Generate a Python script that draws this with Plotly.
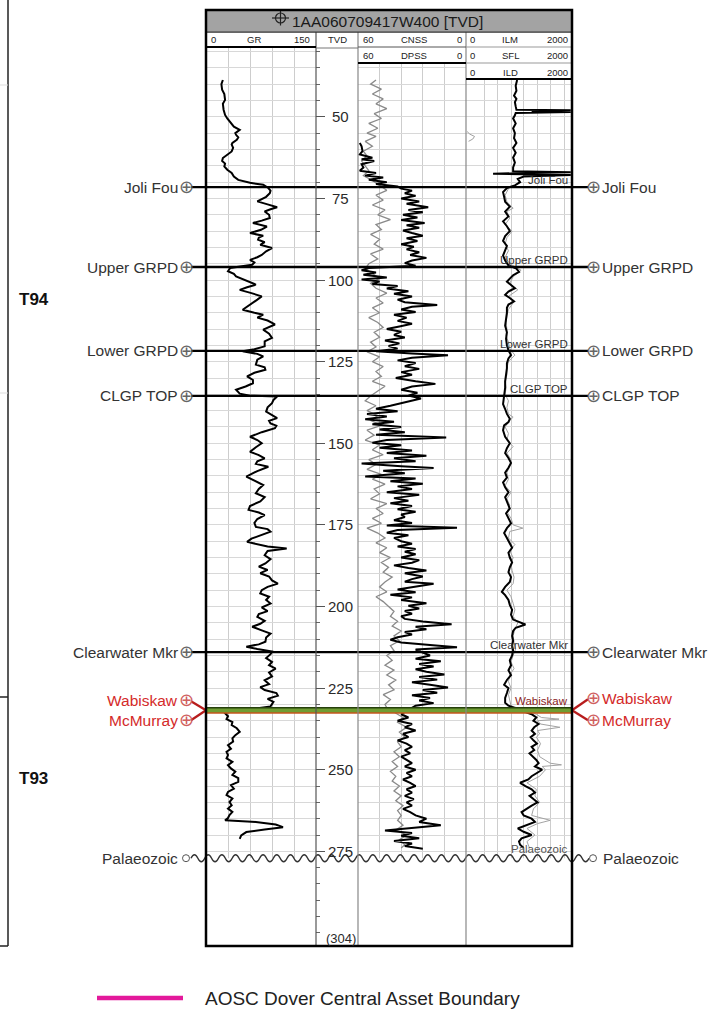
import math
import plotly.graph_objects as go

W, H = 708, 1014
FONT = "Liberation Sans, Arial, Helvetica, sans-serif"


def px(x):
    return x / W


def py(y):
    return 1 - y / H


# ---------------- data ----------------
DEPTH_TOP, DEPTH_BOTTOM = 28.6, 304.0
TVD_MAJOR = [50, 75, 100, 125, 150, 175, 200, 225, 250, 275]
TVD_END = 304

TOP_NAMES = ["Joli Fou", "Upper GRPD", "Lower GRPD", "CLGP TOP", "Clearwater Mkr"]
TOP_DEPTHS = [71.5, 96.0, 121.7, 135.5, 214.0]
WABISKAW, MCMURRAY, PALAEOZOIC = 231.0, 232.6, 277.1
ZONE_NAMES = ["T94", "T93"]

GR_LOG = [
    (38.7, 23), (40, 21), (41.7, 22), (43, 25), (44.8, 26), (46, 23), (47.8, 24), (49.4, 26),
    (50.5, 29), (52, 34), (53, 38), (54, 46), (55, 40), (55.5, 41), (56.3, 44), (57, 42),
    (58, 36), (58.5, 35), (59.5, 37), (60.6, 35), (61.5, 30), (62.6, 23), (63.5, 22), (64.3, 26),
    (65.2, 25), (66.2, 29), (67.2, 35), (68.3, 38), (69.3, 44), (70.2, 60), (70.8, 78), (71.8, 85),
    (72.6, 88), (73.4, 87), (74.5, 82), (75.9, 70), (76.8, 84), (77.7, 97), (78.3, 88), (79, 80),
    (80, 86), (81, 87), (81.8, 76), (82.5, 64), (83.6, 83), (84.6, 75), (85.6, 60), (86.4, 78),
    (87, 72), (87.6, 71), (88.4, 80), (89.2, 74), (90.2, 90), (91.2, 82), (92.3, 76), (93, 70),
    (93.8, 60), (94.6, 66), (95.3, 63), (96.3, 33), (97.3, 30), (98.1, 38), (98.9, 41), (100, 52),
    (101.4, 68), (102.2, 56), (103, 46), (104, 62), (105, 76), (106, 70), (107, 64), (108, 58),
    (109.1, 50), (110, 66), (110.6, 78), (111.5, 70), (112.4, 84), (113.6, 94), (114.5, 84),
    (115.2, 78), (116.4, 86), (117.7, 90), (118.8, 80), (120.3, 80), (121.2, 66), (121.8, 50),
    (122.6, 70), (123.4, 78), (124.4, 70), (125.9, 68), (126.7, 80), (127.5, 81), (128.4, 66),
    (129.5, 56), (130.6, 64), (131.6, 64), (132.6, 54), (133.6, 41), (134.8, 46), (135.4, 60),
    (135.7, 97), (136.7, 92), (137.7, 90), (139, 84), (140.3, 82), (141.3, 90), (142.3, 97),
    (143.1, 86), (143.9, 88), (144.6, 96), (145.4, 94), (146.6, 76), (148, 60), (149, 70),
    (150, 76), (151.2, 68), (152.6, 60), (153.6, 72), (154.6, 80), (155.5, 70), (156.3, 68),
    (157.2, 85), (158.5, 70), (160.2, 55), (161.4, 66), (162.8, 78), (164, 72), (165.3, 68),
    (166.5, 80), (167.8, 74), (169.2, 60), (170.4, 58), (171.2, 72), (172, 80), (173.2, 70),
    (174.4, 66), (175.6, 68), (176.3, 84), (177.1, 88), (178.2, 74), (179.2, 62), (180.2, 56),
    (181, 70), (181.6, 84), (182.2, 110), (183, 84), (184.3, 80), (185.5, 88), (186.8, 81),
    (187.8, 72), (188.8, 84), (189.8, 74), (190.8, 86), (192, 90), (193, 98), (194, 84),
    (195, 76), (196, 74), (197, 86), (198, 82), (199.1, 88), (200.3, 76), (201.4, 84),
    (202.3, 72), (203.2, 70), (204.4, 80), (205.3, 74), (206.2, 63), (207.3, 76), (208.3, 88),
    (209.5, 82), (210.8, 81), (211.6, 72), (212.3, 55), (213, 70), (213.8, 90), (214.6, 88),
    (215.8, 82), (217, 90), (218, 86), (219, 95), (220.2, 86), (221.4, 90), (222.6, 80),
    (223.8, 86), (224.7, 74), (225.6, 80), (226.5, 96), (227.3, 98), (228.3, 84), (229.2, 92),
    (229.8, 90), (230.6, 88), (232.4, 30), (232.7, 26), (233.6, 30), (234.5, 28), (235.4, 36),
    (236.3, 35), (237.3, 42), (238.4, 46), (239.4, 40), (240.4, 36), (241.4, 37), (242.5, 30),
    (243.6, 34), (244.5, 28), (245.5, 30), (246.5, 28), (247.6, 36), (248.6, 30), (249.6, 34),
    (250.6, 40), (251.6, 36), (252.6, 44), (253.7, 44), (254.7, 34), (255.8, 38), (256.8, 30),
    (257.8, 28), (258.8, 36), (259.9, 32), (260.9, 35), (261.9, 30), (262.9, 36), (263.9, 32),
    (264.8, 30), (265.5, 26), (266, 68), (266.8, 95), (267.6, 105), (268.3, 80), (269.1, 55),
    (270.1, 48), (271.2, 46),
]

CNSS_LOG = [
    (38.7, 50), (40, 53), (41.5, 47), (43, 52), (44.5, 46), (46, 50), (47.5, 44), (49, 51),
    (50.5, 47), (52, 54), (53.5, 49), (55, 55), (56, 50), (57.5, 56), (59, 52), (60.5, 57),
    (62, 55), (63.5, 58), (65, 56), (66.5, 54), (68, 57), (69.5, 52), (71, 48), (72.5, 44),
    (74, 50), (75.5, 46), (77, 52), (78.5, 45), (80, 49), (81.5, 42), (83, 50), (84.5, 47),
    (86, 53), (87.5, 48), (89, 51), (90.5, 46), (92, 53), (93.5, 49), (95, 54), (96.5, 56),
    (98, 52), (99.5, 48), (101, 53), (102.5, 50), (104, 44), (105.5, 50), (107, 46), (108.5, 52),
    (110, 48), (111.5, 54), (113, 49), (114.5, 46), (116, 51), (117.5, 48), (119, 53), (120.5, 50),
    (122, 55), (123.5, 48), (125, 52), (126.5, 46), (128, 50), (129.5, 47), (131, 52), (132.5, 45),
    (134, 49), (135.5, 53), (137, 56), (138.5, 50), (140, 55), (141.5, 49), (143, 53), (144.5, 47),
    (146, 55), (147.5, 51), (149, 56), (150.5, 48), (152, 52), (153.5, 46), (155, 54), (156.5, 50),
    (158, 55), (159.5, 47), (161, 52), (162.5, 45), (164, 51), (165.5, 48), (167, 53), (168.5, 44),
    (170, 50), (171.5, 46), (173, 52), (174.5, 47), (176, 55), (177.5, 49), (179, 45), (180.5, 50),
    (182, 44), (183.5, 48), (185, 42), (186.5, 47), (188, 43), (189.5, 46), (191, 41), (192.5, 45),
    (194, 48), (195.5, 44), (197, 50), (198.5, 46), (200, 43), (201.5, 40), (203, 42), (204.5, 38),
    (206, 41), (207.5, 36), (209, 40), (210.5, 37), (212, 42), (213.5, 40), (215, 44), (216.5, 41),
    (218, 45), (219.5, 40), (221, 44), (222.5, 39), (224, 43), (225.5, 40), (227, 46), (228.5, 42),
    (230, 45), (231, 44), (233, 38), (234, 35), (235.5, 38), (237, 33), (238.5, 37), (240, 34),
    (241.5, 38), (243, 36), (244.5, 40), (246, 37), (247.5, 41), (249, 38), (250.5, 42), (252, 39),
    (253.5, 41), (255, 37), (256.5, 40), (258, 36), (259.5, 39), (261, 35), (262.5, 38), (264, 36),
    (265.5, 38), (267, 35), (268.5, 39), (270, 33), (271.5, 37), (273, 34), (274, 36),
]

DPSS_LOG = [
    (58, 59), (59, 58), (60.5, 57.5), (61.5, 59), (62.5, 52), (63, 58), (63.5, 51), (64.5, 58),
    (65.5, 57), (66.5, 59), (67.2, 50), (68, 56), (68.6, 46), (69.3, 54), (70, 44), (70.6, 50),
    (71.3, 38), (72, 36), (72.6, 30), (73.4, 34), (74.2, 28), (75, 36), (75.9, 26), (76.6, 33),
    (77.7, 21), (78.5, 32), (79.2, 24), (80, 35), (80.8, 27), (81.6, 36), (82.5, 23), (83.2, 33),
    (84, 26), (84.8, 35), (85.6, 30), (86.4, 24), (87.2, 33), (88, 27), (89, 36), (89.8, 29),
    (90.6, 33), (91.5, 26), (92.3, 31), (93.2, 22), (94, 30), (94.8, 34), (95.6, 28), (96.3, 54),
    (97, 58), (97.7, 50), (98.4, 57), (99.2, 44), (99.8, 58), (100.4, 48), (101.2, 52), (101.8, 38),
    (102.6, 44), (103.4, 32), (104.2, 40), (105, 30), (106, 38), (106.8, 34), (107.6, 16), (108.2, 30),
    (109, 36), (109.8, 28), (110.6, 40), (111.5, 33), (112.5, 38), (113.4, 30), (114.2, 37), (115, 44),
    (115.8, 36), (116.8, 40), (117.6, 34), (118.5, 45), (119.4, 37), (120.2, 43), (121, 38), (121.8, 50),
    (122.5, 30), (123, 10), (123.8, 30), (124.6, 38), (125.4, 28), (126.4, 34), (127.2, 26), (128.2, 36),
    (129, 30), (130, 39), (131, 28), (131.8, 17), (132.6, 30), (133.6, 36), (134.5, 27), (135.4, 32),
    (136.3, 25), (137.4, 33), (138.5, 42), (139.4, 50), (140.2, 38), (141, 55), (141.8, 44), (142.6, 56),
    (143.4, 40), (144.2, 52), (145, 36), (145.8, 48), (146.6, 34), (147.4, 50), (148.2, 11), (149, 44),
    (149.8, 52), (150.6, 36), (151.4, 48), (152.2, 30), (153, 44), (153.8, 22), (154.6, 40), (155.5, 28),
    (156.2, 58), (157, 36), (157.6, 18), (158.4, 46), (159.2, 34), (160.2, 56), (160.8, 28), (161.6, 42),
    (162.4, 24), (163.2, 38), (164, 30), (165, 44), (165.8, 26), (166.8, 40), (167.6, 32), (168.4, 42),
    (169.2, 30), (170.2, 38), (171, 28), (171.8, 36), (172.6, 34), (173.6, 40), (174.4, 30), (175.2, 44),
    (175.9, 5), (176.6, 38), (177.4, 44), (178.2, 32), (179, 40), (180, 36), (180.8, 30), (181.6, 38),
    (182.4, 28), (183.2, 34), (184, 28), (185, 36), (185.8, 26), (186.6, 30), (187.4, 40), (188.2, 32),
    (189, 22), (189.8, 34), (190.8, 24), (191.6, 30), (192.4, 34), (193, 18), (194, 30), (194.8, 38),
    (195.6, 28), (196.4, 42), (197.2, 30), (198, 36), (199, 22), (199.8, 32), (200.6, 26), (201.4, 34),
    (202.2, 30), (203, 36), (203.8, 34), (204.6, 24), (205.4, 8), (206.2, 28), (207, 22), (207.8, 34),
    (208.6, 30), (209.4, 38), (210.2, 42), (211, 36), (211.8, 20), (212.5, 5), (213.2, 28), (214, 24),
    (215, 20), (216, 28), (216.8, 14), (217.6, 26), (218.4, 18), (219.2, 28), (220, 22), (220.8, 12),
    (221.6, 26), (222.4, 16), (223.2, 30), (224, 20), (224.8, 10), (225.6, 24), (226.4, 16), (227.2, 30),
    (228, 20), (228.8, 26), (229.6, 18), (230.4, 28), (233, 36), (234, 32), (235, 38), (236, 30),
    (237, 34), (238, 28), (239, 35), (240, 32), (241, 38), (242, 33), (243, 30), (244, 34),
    (245, 31), (246, 36), (247, 33), (248, 30), (249, 34), (250, 28), (251, 33), (252, 30),
    (253, 35), (254, 31), (255, 28), (256, 33), (257, 30), (258, 34), (259, 29), (260, 33),
    (261, 30), (262, 35), (263, 31), (264, 28), (265, 22), (266, 26), (267, 14), (267.8, 28),
    (268.6, 45), (269.4, 30), (270.2, 36), (271, 26), (271.8, 40), (272.6, 30), (273.4, 34), (274.2, 24),
]

ILD_LOG = [
    (38.7, 17), (40.5, 15), (42, 16), (43.5, 13), (44.5, 16), (45.5, 14), (46.8, 15), (47.8, 16),
    (48.0, 1800), (48.3, 60), (48.5, 1800), (48.8, 15), (49.5, 14), (50.5, 12), (52, 15), (53.5, 12),
    (55, 14), (56.5, 13), (58, 16), (59.5, 12), (61, 15), (62.5, 12), (64, 14), (65.5, 12),
    (66.7, 12), (67, 1800), (67.4, 2.1), (67.8, 1800), (68.3, 30), (69, 18), (70, 22), (71, 14),
    (71.8, 7), (73, 5), (74.5, 5.5), (76, 6), (77.5, 9), (79, 6), (80.5, 8), (82, 5),
    (83.5, 7), (85, 9), (86.5, 6), (88, 5), (89.5, 7), (91, 6), (92.5, 5), (94, 6),
    (95.5, 8), (96.5, 16), (97.5, 20), (98.5, 12), (99.5, 9), (100.5, 7), (101.5, 10), (102.5, 14),
    (103.5, 8), (104.5, 6), (105.5, 9), (106.5, 13), (107.5, 8), (108.5, 7), (110, 7), (112, 6.5),
    (114, 6), (116, 7), (118, 6.5), (120, 7), (121.5, 8), (123, 10), (124, 8), (125.5, 7),
    (127, 7), (129, 6.5), (131, 6), (133, 6), (135, 5.5), (136.5, 5), (138, 5), (139.5, 6),
    (141, 7), (142.5, 9), (143.5, 8), (144.5, 5.5), (146, 5), (148, 6), (150, 9), (151.5, 7),
    (153, 6), (154.5, 8), (156, 10), (157.5, 8), (159, 6), (160.5, 7), (162, 5), (163.5, 6),
    (165, 8), (166.5, 6), (168, 7), (170, 9), (171.5, 6.5), (173, 8), (174.5, 10), (176, 7),
    (177.5, 5.5), (179, 7), (180.5, 9), (182, 11), (183.5, 8), (185, 9), (186.5, 11), (188, 9),
    (189.5, 8), (191, 10), (192.5, 9), (194, 6), (195.5, 4.5), (196.5, 6), (198, 8), (199.5, 9),
    (201, 11), (202.5, 10), (204, 12), (205.5, 35), (206.5, 15), (207.5, 12), (209, 11), (210.5, 12),
    (212, 11), (213.5, 12), (215, 11), (216.5, 9), (218, 10), (219.5, 8), (221, 10), (222.5, 7),
    (224, 5.5), (225, 8), (226.5, 7), (228, 6), (229.5, 6), (230.4, 8), (233, 60), (234, 90),
    (235, 70), (236, 110), (237, 75), (238, 60), (239, 80), (240, 55), (241, 70), (242, 95),
    (243, 60), (244, 75), (245, 50), (246, 70), (247, 90), (248, 110), (249, 80), (250, 150),
    (251, 90), (252, 60), (253, 45), (254, 22), (255, 35), (256, 60), (257, 80), (258, 50),
    (259, 70), (260, 100), (261, 60), (262, 40), (263, 25), (264, 30), (265, 60), (266, 80),
    (267, 40), (268, 18), (269, 30), (270, 60), (271, 25), (272, 20), (273, 22), (274, 30),
]

SFL_LOG = [
    (72, 8), (74, 6), (76, 7), (78, 12), (79, 7), (81, 9), (83, 6), (85, 11), (87, 7), (89, 6),
    (91, 8), (93, 6), (95, 9), (97, 24), (99, 12), (101, 9), (103, 18), (105, 8), (107, 12),
    (109, 8), (111, 7), (113, 6.5), (115, 7), (117, 6.5), (119, 8), (121, 9), (123, 14), (125, 8),
    (127, 7), (129, 7), (131, 6), (133, 6.5), (135, 6), (137, 8), (139, 7), (141, 8), (142, 12),
    (143, 9), (145, 6), (147, 8), (149, 7), (151, 12), (153, 7), (155, 10), (157, 9), (159, 7),
    (161, 8), (163, 6), (165, 10), (167, 7), (169, 9), (171, 7), (173, 10), (175, 12), (176, 28),
    (177, 9), (179, 8), (181, 14), (183, 9), (185, 12), (187, 10), (189, 11), (191, 13), (193, 12),
    (195, 7), (197, 10), (199, 12), (201, 14), (203, 12), (205, 18), (207, 14), (209, 12), (211, 13),
    (213, 15), (215, 12), (217, 10), (219, 13), (221, 9), (223, 8), (225, 10), (227, 8), (229, 9),
    (230.4, 10), (233, 90), (234, 140), (234.5, 650), (235, 100), (236, 130), (237, 700), (238, 100),
    (239, 120), (240, 90), (242, 130), (244, 100), (246, 120), (248, 300), (248.5, 800), (249, 150),
    (250, 200), (252, 120), (254, 40), (256, 90), (258, 80), (260, 120), (262, 70), (264, 60),
    (265.5, 300), (266.5, 100), (268, 40), (270, 80), (272, 40), (274, 50),
]

ILM_LOG = [(54.5, 0.22), (55.3, 0.28), (56.0, 0.42), (56.8, 0.36), (57.5, 0.25)]


def split(pairs):
    return [p[0] for p in pairs], [p[1] for p in pairs]


gr_d, gr = split(GR_LOG)
cnss_d, cnss = split(CNSS_LOG)
dpss_d, dpss = split(DPSS_LOG)
ild_d, ild = split(ILD_LOG)
sfl_d, sfl = split(SFL_LOG)
ilm_d, ilm = split(ILM_LOG)

# ---------------- figure ----------------
fig = go.Figure()


def curve(x, y, xa, color, width):
    fig.add_trace(go.Scatter(x=x, y=y, xaxis=xa, yaxis="y", mode="lines",
                             line=dict(color=color, width=width), hoverinfo="skip"))


curve(gr, gr_d, "x", "black", 2)
curve(cnss, cnss_d, "x2", "#8a8a8a", 1.3)
curve(dpss, dpss_d, "x2", "black", 2)
curve(ilm, ilm_d, "x3", "#a0a0a0", 1)
curve(sfl, sfl_d, "x3", "#a3a3a3", 1)
curve(ild, ild_d, "x3", "black", 2)
# TVD track carrier (invisible)
fig.add_trace(go.Scatter(x=[0.5, 0.5], y=[DEPTH_TOP, DEPTH_BOTTOM], xaxis="x4", yaxis="y2",
                         mode="lines", line=dict(width=0, color="rgba(0,0,0,0)"), hoverinfo="skip"))

YDOM = [py(946), py(47)]
common = dict(showticklabels=False, zeroline=False, showline=False, ticks="", fixedrange=True)
GRID = "#cdcdcd"

layout = dict(
    width=W, height=H, margin=dict(l=0, r=0, t=0, b=0),
    paper_bgcolor="white", plot_bgcolor="rgba(0,0,0,0)", showlegend=False,
    xaxis=dict(domain=[px(206), px(316)], range=[0, 150], anchor="y", showgrid=True,
               tickvals=[30, 60, 90, 120], gridcolor=GRID, gridwidth=1, **common),
    xaxis2=dict(domain=[px(358), px(466)], range=[60, 0], anchor="y", showgrid=True,
                tickvals=[12, 24, 36, 48], gridcolor=GRID, gridwidth=1, **common),
    xaxis3=dict(domain=[px(466), px(572)], type="log", range=[math.log10(0.2), math.log10(2000)],
                anchor="y", showgrid=True, tickvals=[1, 3, 10, 30, 100, 300, 1000],
                gridcolor=GRID, gridwidth=1, **common),
    xaxis4=dict(domain=[px(316), px(358)], range=[0, 1], anchor="y2", visible=False, fixedrange=True),
    yaxis=dict(domain=YDOM, range=[DEPTH_BOTTOM, DEPTH_TOP], anchor="x", showgrid=True,
               tick0=0, dtick=5, gridcolor="#d8d8d8", gridwidth=1, **common),
    yaxis2=dict(domain=YDOM, range=[DEPTH_BOTTOM, DEPTH_TOP], anchor="x4", side="left",
                showgrid=False, zeroline=False, showline=False, showticklabels=False,
                ticks="inside", tickvals=TVD_MAJOR + [TVD_END], ticklen=9, tickwidth=1,
                tickcolor="#555", fixedrange=True,
                minor=dict(ticks="inside", tick0=0, dtick=5, ticklen=4, tickwidth=1,
                           tickcolor="#666", showgrid=False)),
)
fig.update_layout(**layout)

shapes = []


def pline(x0, y0, x1, y1, color="black", width=1, dash=None):
    ln = dict(color=color, width=width)
    if dash:
        ln["dash"] = dash
    shapes.append(dict(type="line", xref="paper", yref="paper", x0=px(x0), y0=py(y0),
                       x1=px(x1), y1=py(y1), line=ln, layer="above"))


def prect(x0, y0, x1, y1, fill, lcolor=None, lwidth=0):
    shapes.append(dict(type="rect", xref="paper", yref="paper", x0=px(x0), y0=py(y1),
                       x1=px(x1), y1=py(y0), fillcolor=fill,
                       line=dict(color=lcolor or fill, width=lwidth), layer="above"))


# white covers: header parts of tracks and the zone below the unconformity
prect(358, 47, 466, 63, "white")
prect(466, 47, 572, 80, "white")
for a, b in [(206, 316), (358, 466), (466, 572)]:
    shapes.append(dict(type="rect", xref="paper", yref="y", x0=px(a), x1=px(b),
                       y0=PALAEOZOIC, y1=DEPTH_BOTTOM, fillcolor="white",
                       line=dict(width=0), layer="above"))

# Wabiskaw / McMurray band
shapes.append(dict(type="rect", xref="paper", yref="y", x0=px(206), x1=px(572),
                   y0=WABISKAW, y1=MCMURRAY, fillcolor="#6f9d33", line=dict(width=0), layer="above"))
shapes.append(dict(type="line", xref="paper", yref="y", x0=px(206), x1=px(572),
                   y0=WABISKAW, y1=WABISKAW, line=dict(color="#26400c", width=1.5), layer="above"))
shapes.append(dict(type="line", xref="paper", yref="y", x0=px(206), x1=px(572),
                   y0=MCMURRAY, y1=MCMURRAY, line=dict(color="#c4561d", width=1.5), layer="above"))

# formation top lines
for d in TOP_DEPTHS:
    shapes.append(dict(type="line", xref="paper", yref="y", x0=px(191), x1=px(588),
                       y0=d, y1=d, line=dict(color="black", width=2.3), layer="above"))

# red connector lines for Wabiskaw / McMurray
band_mid = (WABISKAW + MCMURRAY) / 2
for (xa, ya), (xb, yb) in [((191, 9), (206, 0)), ((191, -10), (206, 0)),
                           ((572, 0), (588, 11)), ((572, 0), (588, -10))]:
    shapes.append(dict(type="line", xref="paper", yref="y", ysizemode="pixel", yanchor=band_mid,
                       x0=px(xa), y0=ya, x1=px(xb), y1=yb,
                       line=dict(color="#b71c1c", width=2.3), layer="above"))

# unconformity wave (Palaeozoic)
x_start, x_end, n_half, amp = 191.0, 589.0, 58, 3.5
h = (x_end - x_start) / n_half
path = f"M {px(x_start):.5f},0"
for i in range(n_half):
    xs = x_start + i * h
    sgn = 1 if i % 2 == 0 else -1
    path += f" Q {px(xs + h / 2):.5f},{sgn * 2 * amp:.2f} {px(xs + h):.5f},0"
shapes.append(dict(type="path", xref="paper", yref="y", ysizemode="pixel", yanchor=PALAEOZOIC,
                   path=path, line=dict(color="#333333", width=1.4), layer="above"))
# small open circles at the ends of the unconformity
for cx in (186, 593):
    shapes.append(dict(type="circle", xref="paper", yref="y", ysizemode="pixel",
                       yanchor=PALAEOZOIC, x0=px(cx - 3.5), x1=px(cx + 3.5), y0=-3.5, y1=3.5,
                       fillcolor="white", line=dict(color="#555", width=1), layer="above"))

# track dividers
pline(316, 32, 316, 946, "#555", 1.2)
pline(358, 32, 358, 946, "#888", 1.2)
pline(466, 32, 466, 946, "#888", 1.2)

# header lines
pline(206, 32, 572, 32, "#333", 1)
pline(206, 47, 316, 47, "black", 2.2)
pline(316, 48, 358, 48, "#777", 1)
pline(358, 47, 466, 47, "#555", 1)
pline(466, 47, 572, 47, "#999", 1)
pline(358, 63, 466, 63, "black", 2.2)
pline(466, 63, 572, 63, "#999", 1)
pline(466, 79, 572, 79, "black", 2.2)

# title bar
prect(206, 10, 572, 32, "#a3a3a3", "#333", 1)
# title crosshair symbol
shapes.append(dict(type="circle", xref="paper", yref="paper", x0=px(275.5), x1=px(285.5),
                   y0=py(23), y1=py(13), line=dict(color="#222", width=1.2), layer="above"))
pline(272, 18, 289, 18, "#222", 1.2)
pline(280.5, 10.5, 280.5, 25.5, "#222", 1.2)

# outer border
shapes.append(dict(type="rect", xref="paper", yref="paper", x0=px(206), x1=px(572),
                   y0=py(946), y1=py(10), line=dict(color="black", width=2.5),
                   fillcolor="rgba(0,0,0,0)", layer="above"))

# left zone box
pline(8, 0, 8, 946, "#222", 1.5)
pline(0, 697, 8, 697, "#222", 1.5)
pline(0, 946, 8, 946, "#222", 1.5)
pline(0, 85, 8, 85, "#dddddd", 1)
pline(0, 393, 8, 393, "#dddddd", 1)

# legend line
pline(97, 998, 183, 998, "#e3199b", 4.5)

fig.update_layout(shapes=shapes)

anns = []


def ann(text, x, y, size=15.5, color="#333", xanchor="center", yanchor="middle",
        yref="paper", yshift=0, bold=False):
    if bold:
        text = f"<b>{text}</b>"
    anns.append(dict(text=text, x=px(x), xref="paper",
                     y=(py(y) if yref == "paper" else y), yref=yref,
                     xanchor=xanchor, yanchor=yanchor, yshift=yshift, showarrow=False,
                     font=dict(family=FONT, size=size, color=color)))


# title
ann("1AA060709417W400 [TVD]", 387, 21.5, size=15.5, color="#1a1a1a")

# header texts
HS = 9.5
ann("0", 209, 40, HS, "#222", "left")
ann("GR", 254, 40, HS, "#222")
ann("150", 312, 40, HS, "#222", "right")
ann("TVD", 337, 40, HS, "#222")
ann("60", 361, 40, HS, "#222", "left")
ann("CNSS", 414, 40, HS, "#222")
ann("0", 464, 40, HS, "#222", "right")
ann("60", 361, 56, HS, "#222", "left")
ann("DPSS", 414, 56, HS, "#222")
ann("0", 464, 56, HS, "#222", "right")
for row, name in zip([40, 56, 72], ["ILM", "SFL", "ILD"]):
    ann("0", 468, row, HS, "#222", "left")
    ann(name, 510, row, HS, "#222")
    ann("2000", 570, row, HS, "#222", "right")

# TVD labels
for v in TVD_MAJOR:
    ann(str(v), 340, v, 15, "#2a2a2a", yref="y")
ann(f"({TVD_END})", 341, TVD_END, 13, "#2a2a2a", yref="y", yshift=8)

# formation tops
SYM = "#666"
SYMSIZE = 18
for name, d in zip(TOP_NAMES, TOP_DEPTHS):
    ann(name, 180, d, 15.5, "#333", "right", yref="y")
    ann("⊕", 186, d, SYMSIZE, SYM, yref="y")
    ann("⊕", 593, d, SYMSIZE, SYM, yref="y")
    ann(name, 600, d, 15.5, "#333", "left", yref="y")
    ann(name, 570, d, 11.5, "#333", "right", "bottom", yref="y", yshift=-1)

RED = "#d42a2a"
for name, shift_l, shift_r in [("Wabiskaw", 10, 12), ("McMurray", -10, -10)]:
    ann(name, 180, band_mid, 15.5, RED, "right", yref="y", yshift=shift_l)
    ann("⊕", 186, band_mid, SYMSIZE, "#d06060", yref="y", yshift=shift_l)
    ann("⊕", 593, band_mid, SYMSIZE, "#d06060", yref="y", yshift=shift_r)
    ann(name, 600, band_mid, 15.5, RED, "left", yref="y", yshift=shift_r)
ann("Wabiskaw", 570, WABISKAW, 11.5, "#8b2323", "right", "bottom", yref="y", yshift=-1)

ann("Palaeozoic", 180, PALAEOZOIC, 15.5, "#333", "right", yref="y")
ann("Palaeozoic", 601, PALAEOZOIC, 15.5, "#333", "left", yref="y")
ann("Palaeozoic", 570, PALAEOZOIC, 11.5, "#555", "right", "bottom", yref="y", yshift=1)

# zone labels
ann(ZONE_NAMES[0], 17, 300, 17, "#111", "left", bold=True)
ann(ZONE_NAMES[1], 17, 778, 17, "#111", "left", bold=True)

# legend text
ann("AOSC Dover Central Asset Boundary", 203, 998, 19, "#222", "left")

fig.update_layout(annotations=anns)
fig.write_html("out.html")
